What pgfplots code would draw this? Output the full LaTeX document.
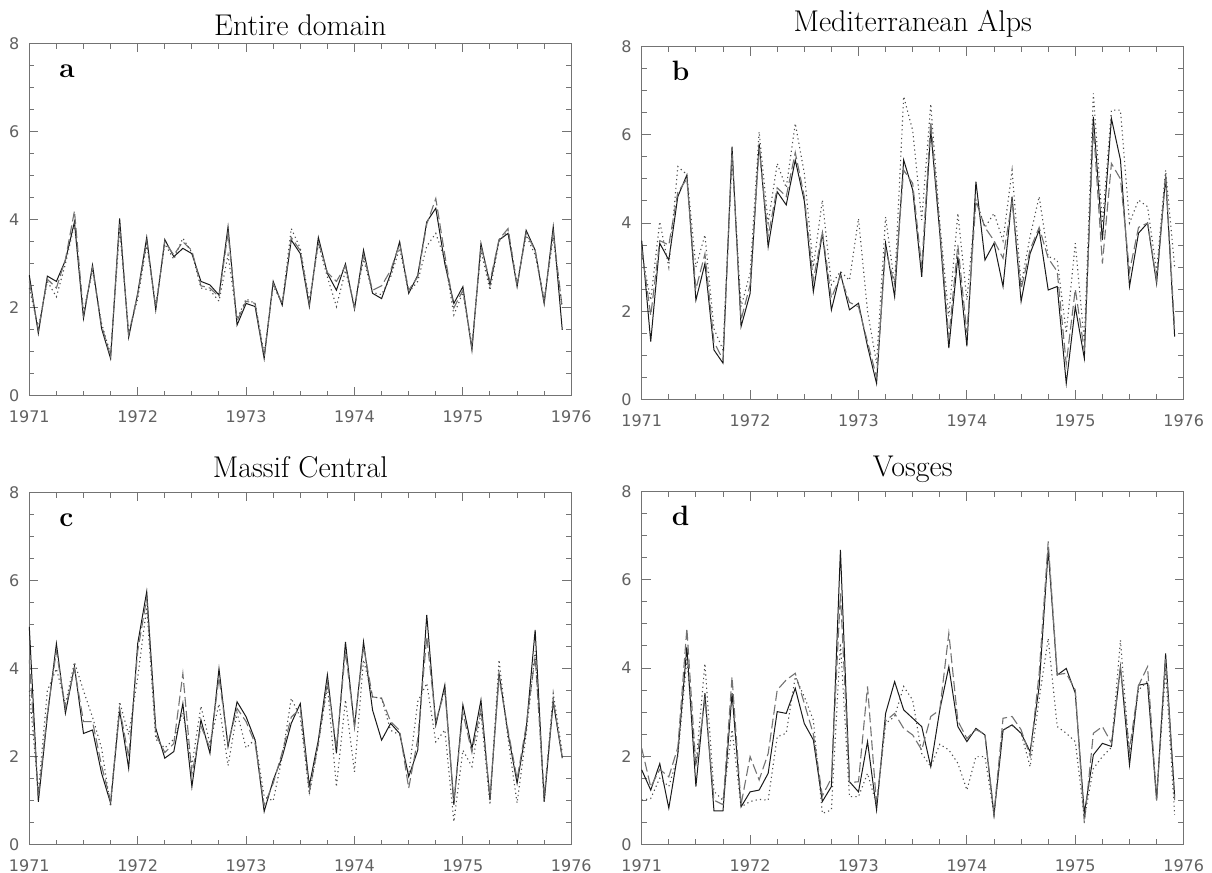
\documentclass[border=0pt]{standalone}
\usepackage{pgfplots}
\pgfplotsset{compat=1.18}
\usepackage{pgfplotstable}
\usepackage{fontspec}
\newfontfamily\ticksf{DejaVu Sans}

% columns: m = month index from Jan 1971, s = solid, d = dashed, t = dotted
\pgfplotstableread{
m s d t
0 2.74 2.60 2.45
1 1.42 1.50 1.55
2 2.72 2.65 2.60
3 2.60 2.45 2.25
4 3.08 3.10 3.00
5 3.95 4.20 3.90
6 1.76 1.85 1.90
7 2.97 2.90 2.85
8 1.53 1.60 1.65
9 0.85 0.90 0.95
10 4.03 3.90 3.80
11 1.33 1.40 1.45
12 2.33 2.30 2.20
13 3.60 3.50 3.45
14 1.95 2.00 2.05
15 3.55 3.50 3.45
16 3.16 3.20 3.10
17 3.35 3.50 3.58
18 3.23 3.30 3.25
19 2.60 2.50 2.45
20 2.52 2.45 2.40
21 2.29 2.25 2.15
22 3.84 3.70 3.20
23 1.61 1.70 1.75
24 2.10 2.15 2.20
25 2.03 2.10 2.10
26 0.85 0.90 0.95
27 2.60 2.55 2.50
28 2.06 2.10 2.10
29 3.54 3.60 3.80
30 3.23 3.30 3.35
31 2.03 2.10 2.15
32 3.60 3.50 3.45
33 2.78 2.80 2.70
34 2.40 2.60 2.03
35 3.00 2.95 2.85
36 1.97 2.00 2.05
37 3.31 3.20 3.10
38 2.33 2.40 2.35
39 2.21 2.50 2.30
40 2.78 2.85 2.70
41 3.50 3.45 3.35
42 2.33 2.40 2.35
43 2.74 2.70 2.60
44 3.95 3.90 3.40
45 4.26 4.48 3.69
46 3.00 3.20 3.10
47 2.10 2.00 1.84
48 2.48 2.40 2.35
49 1.04 1.10 1.15
50 3.46 3.40 3.30
51 2.52 2.60 2.40
52 3.54 3.55 3.50
53 3.69 3.80 3.75
54 2.48 2.50 2.55
55 3.76 3.70 3.65
56 3.31 3.30 3.20
57 2.09 2.15 2.20
58 3.84 3.70 3.60
59 1.50 2.00 2.00
}\dataA

\pgfplotstableread{
m s d t
0 3.60 3.40 3.30
1 1.31 1.90 2.25
2 3.54 3.60 4.03
3 3.16 3.50 3.00
4 4.60 4.70 5.28
5 5.09 5.00 5.10
6 2.25 2.50 3.00
7 3.08 3.30 3.73
8 1.12 1.30 1.60
9 0.82 0.90 1.12
10 5.73 5.60 5.50
11 1.65 1.80 2.10
12 2.40 2.60 2.86
13 5.80 5.70 6.07
14 3.46 3.70 4.00
15 4.71 4.80 5.35
16 4.41 4.60 4.80
17 5.43 5.60 6.26
18 4.50 4.60 5.13
19 2.44 2.70 3.00
20 3.77 3.80 4.52
21 2.03 2.30 2.60
22 2.86 2.80 2.90
23 2.03 2.20 2.70
24 2.18 2.10 4.10
25 1.20 1.30 2.00
26 0.36 0.50 0.82
27 3.54 3.40 4.14
28 2.33 2.60 2.60
29 5.43 5.20 6.87
30 4.75 4.90 6.10
31 2.78 3.00 4.07
32 6.10 6.30 6.70
33 3.77 3.90 4.00
34 1.16 1.40 1.88
35 3.24 3.50 4.22
36 1.20 1.50 2.25
37 4.94 4.50 4.52
38 3.16 3.90 3.90
39 3.54 3.60 4.22
40 2.56 3.20 3.60
41 4.60 4.50 5.20
42 2.22 2.50 2.60
43 3.31 3.40 3.70
44 3.84 3.90 4.60
45 2.48 3.20 3.24
46 2.56 2.90 3.16
47 0.36 0.80 1.50
48 2.10 2.50 3.54
49 0.93 1.10 1.30
50 6.41 6.20 6.94
51 3.61 3.08 4.00
52 6.37 5.35 6.56
53 5.43 5.00 6.56
54 2.56 2.90 4.00
55 3.77 3.90 4.52
56 4.00 4.00 4.37
57 2.63 2.70 2.90
58 5.05 5.10 5.20
59 1.42 1.60 3.00
}\dataB

\pgfplotstableread{
m s d t
0 4.95 4.20 3.50
1 0.98 1.10 1.20
2 2.91 3.00 3.50
3 4.57 4.40 4.00
4 2.99 3.10 3.20
5 4.05 4.00 4.15
6 2.53 2.80 3.50
7 2.61 2.80 2.90
8 1.63 1.80 2.20
9 0.95 1.00 0.87
10 3.06 3.10 3.25
11 1.74 2.00 2.50
12 4.57 4.40 3.80
13 5.75 5.60 5.40
14 2.65 2.50 2.40
15 1.97 2.10 2.20
16 2.12 2.30 2.40
17 3.21 3.89 3.00
18 1.32 1.60 1.80
19 2.84 2.70 3.15
20 2.08 2.20 2.30
21 4.00 3.80 3.20
22 2.23 2.30 1.80
23 3.25 3.10 3.00
24 2.91 2.80 2.20
25 2.38 2.30 2.40
26 0.76 0.90 1.10
27 1.47 1.40 1.00
28 2.00 2.10 2.00
29 2.76 2.90 3.33
30 3.21 3.10 2.90
31 1.35 1.20 1.15
32 2.38 2.30 2.30
33 3.86 3.70 3.60
34 2.08 2.20 1.32
35 4.61 4.40 3.29
36 2.68 2.70 1.66
37 4.61 4.50 4.20
38 3.06 3.36 3.36
39 2.38 3.33 3.33
40 2.76 2.80 2.60
41 2.53 2.60 2.50
42 1.55 1.29 1.60
43 2.15 2.40 3.25
44 5.22 4.73 3.67
45 2.72 2.80 2.34
46 3.63 3.50 2.61
47 0.91 1.00 0.53
48 3.18 3.00 2.15
49 2.19 2.10 1.78
50 3.29 3.10 3.00
51 1.02 1.10 0.91
52 3.89 3.80 4.20
53 2.53 2.60 2.40
54 1.40 1.50 0.95
55 2.61 2.70 2.50
56 4.88 4.27 4.40
57 0.98 1.10 0.98
58 3.25 3.30 3.44
59 1.97 2.00 2.10
}\dataC

\pgfplotstableread{
m s d t
0 1.69 2.18 1.00
1 1.23 1.30 1.04
2 1.83 1.70 1.50
3 0.82 1.53 1.31
4 2.06 2.20 2.00
5 4.48 4.90 4.20
6 1.31 1.76 1.80
7 3.43 3.30 4.10
8 0.76 1.00 1.20
9 0.76 0.90 1.00
10 3.43 3.80 2.60
11 0.85 0.90 0.85
12 1.19 1.99 0.97
13 1.23 1.46 1.02
14 1.61 2.06 1.00
15 3.01 3.50 2.44
16 2.97 3.73 2.52
17 3.54 3.88 3.80
18 2.74 3.20 3.35
19 2.37 2.50 2.82
20 0.97 1.10 0.70
21 1.31 1.50 0.78
22 6.68 5.69 4.56
23 1.42 1.40 1.08
24 1.19 1.42 1.08
25 2.33 3.58 1.61
26 0.78 0.90 0.90
27 2.97 2.80 2.74
28 3.69 2.97 2.90
29 3.05 2.63 3.58
30 2.86 2.48 3.27
31 2.67 2.14 2.06
32 1.76 2.90 1.76
33 3.05 3.05 2.27
34 4.03 4.79 2.14
35 2.67 2.80 1.84
36 2.33 2.40 1.23
37 2.63 2.60 1.99
38 2.48 2.50 1.99
39 0.67 0.70 0.67
40 2.59 2.86 2.60
41 2.71 2.90 2.70
42 2.52 2.60 2.52
43 2.10 2.00 1.76
44 3.58 3.88 3.30
45 6.68 6.87 4.67
46 3.84 3.85 2.67
47 3.99 3.88 2.52
48 3.43 3.50 2.33
49 0.70 0.48 0.60
50 2.03 2.52 1.72
51 2.29 2.67 1.99
52 2.22 2.30 2.20
53 4.03 4.00 4.63
54 1.80 2.14 2.00
55 3.61 3.60 3.50
56 3.65 4.03 3.70
57 1.00 1.00 1.10
58 4.33 4.20 3.95
59 1.08 1.00 0.67
}\dataD

\pgfplotsset{
  every axis title shift=0pt,
  panel/.style={
    scale only axis,
    width=271pt, height=176.3pt,
    xmin=0, xmax=60, ymin=0, ymax=8,
    xtick={0,12,24,36,48,60},
    xticklabels={1971,1972,1973,1974,1975,1976},
    ytick={0,2,4,6,8},
    minor x tick num=3,
    minor y tick num=3,
    major tick length=4.5pt,
    minor tick length=2.6pt,
    tick align=inside,
    axis line style={black!55, line width=0.5pt},
    every tick/.style={black!55, line width=0.5pt},
    /pgf/number format/assume math mode=true,
    ticklabel style={font=\ticksf\fontsize{8}{9}\selectfont, text=black!62},
    xticklabel style={yshift=-4pt},
    yticklabel style={xshift=-1.5pt},
    title style={font=\fontsize{15}{17}\selectfont, anchor=base, at={(0.5,1)}},
    clip=false,
  },
  sol/.style={black!90, line width=0.5pt},
  das/.style={black!55, line width=0.55pt, dash pattern=on 5pt off 2pt},
  dot/.style={black!70, line width=0.55pt, dash pattern=on 0.6pt off 1.6pt},
}

\newcommand{\plabel}[1]{\node[anchor=base west, font=\fontsize{14}{16}\selectfont\bfseries] at ([xshift=11.5pt, yshift=-17pt]rel axis cs:0,1) {#1};}

\begin{document}
\begin{tikzpicture}
\useasboundingbox (0,0) rectangle (606pt,436.5pt);

\begin{axis}[panel, at={(14.65pt,238.5pt)}, anchor=south west,
  title={Entire domain}, title style={yshift=4pt}]
\addplot[sol] table[x=m, y=s] {\dataA};
\addplot[das] table[x=m, y=d] {\dataA};
\addplot[dot] table[x=m, y=t] {\dataA};
\plabel{a}
\end{axis}

\begin{axis}[panel, at={(320.85pt,236.85pt)}, anchor=south west,
  title={Mediterranean Alps}, title style={yshift=7.5pt}]
\addplot[sol] table[x=m, y=s] {\dataB};
\addplot[das] table[x=m, y=d] {\dataB};
\addplot[dot] table[x=m, y=t] {\dataB};
\plabel{b}
\end{axis}

\begin{axis}[panel, at={(14.65pt,14pt)}, anchor=south west,
  title={Massif Central}, title style={yshift=7.5pt}]
\addplot[sol] table[x=m, y=s] {\dataC};
\addplot[das] table[x=m, y=d] {\dataC};
\addplot[dot] table[x=m, y=t] {\dataC};
\plabel{c}
\end{axis}

\begin{axis}[panel, at={(320.85pt,14.35pt)}, anchor=south west,
  title={Vosges}, title style={yshift=7.5pt}]
\addplot[sol] table[x=m, y=s] {\dataD};
\addplot[das] table[x=m, y=d] {\dataD};
\addplot[dot] table[x=m, y=t] {\dataD};
\plabel{d}
\end{axis}
\end{tikzpicture}
\end{document}
